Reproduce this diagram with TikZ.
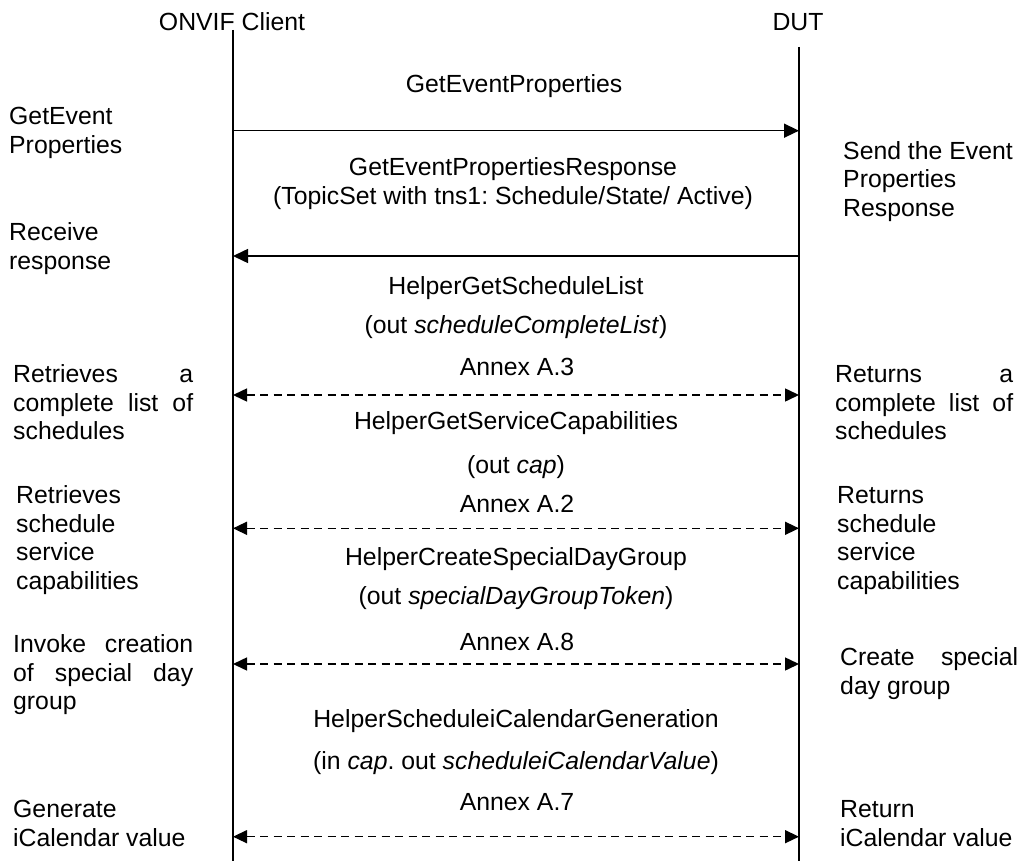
\documentclass[tikz,border=0pt]{standalone}
\usepackage{fontspec}
\setmainfont{Liberation Sans}
\usetikzlibrary{arrows.meta}
\frenchspacing
\newcommand\stk[1]{\vtop{\baselineskip=28.7pt\lineskiplimit=-100pt\halign{##\hfil\cr#1\crcr}}}
\newcommand\js[1]{\makebox[180pt][s]{#1}}
\tikzset{
  lbl/.style={anchor=base west, inner sep=0pt},
  ctr/.style={anchor=base, inner sep=0pt},
  life/.style={line width=1.4pt},
  msg/.style={line width=1.5pt, -{Triangle[length=15pt,width=14pt]}},
  dmsg/.style={line width=1.5pt, dash pattern=on 8pt off 5.5pt,
    {Triangle[length=14pt,width=13pt]}-{Triangle[length=14pt,width=13pt]}}
}
\begin{document}
\begin{tikzpicture}[x=1pt,y=-1pt,font=\fontsize{24.8}{28.7}\selectfont\frenchspacing]
\fill[white] (0,0) rectangle (1019,861);
\useasboundingbox (0,0) rectangle (1019,861);
% headers
\node[ctr] (client) at (232,30.7) {ONVIF Client};
\node[ctr] (dut) at (798,30.7) {DUT};
% lifelines
\coordinate (ctop) at (233,30);
\coordinate (cbot) at (233,861);
\coordinate (dtop) at (799,47);
\coordinate (dbot) at (799,861);
\draw[life] (ctop) -- (cbot);
\draw[life] (dtop) -- (dbot);
% message coordinates
\coordinate (c1) at (233,130.7); \coordinate (d1) at (799,130.7);
\coordinate (c2) at (233,256);   \coordinate (d2) at (799,256);
\coordinate (c3) at (233,395);   \coordinate (d3) at (799,395);
\coordinate (c4) at (233,528.3); \coordinate (d4) at (799,528.3);
\coordinate (c5) at (233,664);   \coordinate (d5) at (799,664);
\coordinate (c6) at (233,836.7); \coordinate (d6) at (799,836.7);
\draw[msg] (c1) -- (d1);
\draw[msg] (d2) -- (c2);
\draw[dmsg] (c3) -- (d3);
\draw[dmsg] (c4) -- (d4);
\draw[dmsg] (c5) -- (d5);
\draw[dmsg] (c6) -- (d6);
% centre texts
\node[ctr] (m1) at (514,92.5) {GetEventProperties};
\node[ctr] (m2a) at (513,175.8) {GetEventPropertiesResponse};
\node[ctr] (m2b) at (513,204.6) {(TopicSet with tns1: Schedule/State/ Active)};
\node[ctr] (m3a) at (516,294.2) {HelperGetScheduleList};
\node[ctr] (m3b) at (516,333) {(out \textit{scheduleCompleteList})};
\node[ctr] (m3c) at (517,375.8) {Annex A.3};
\node[ctr] (m4a) at (516,429.2) {HelperGetServiceCapabilities};
\node[ctr] (m4b) at (516,473) {(out \textit{cap})};
\node[ctr] (m4c) at (517,512.5) {Annex A.2};
\node[ctr] (m5a) at (516,565.8) {HelperCreateSpecialDayGroup};
\node[ctr] (m5b) at (516,604.6) {(out \textit{specialDayGroupToken})};
\node[ctr] (m5c) at (517,650.8) {Annex A.8};
\node[ctr] (m6a) at (516,727.5) {HelperScheduleiCalendarGeneration};
\node[ctr] (m6b) at (516,769.6) {(in \textit{cap}. out \textit{scheduleiCalendarValue})};
\node[ctr] (m6c) at (517,810.8) {Annex A.7};
% left labels
\node[lbl] (l1) at (9,124.8) {\stk{GetEvent\cr Properties}};
\node[lbl] (l2) at (9,240.8) {\stk{Receive\cr response}};
\node[lbl] (l3) at (13,382.5) {\stk{\js{Retrieves a}\cr \js{complete list of}\cr schedules}};
\node[lbl] (l4) at (16,503.5) {\stk{Retrieves\cr schedule\cr service\cr capabilities}};
\node[lbl] (l5) at (13,652.5) {\stk{\js{Invoke creation}\cr \js{of special day}\cr group}};
\node[lbl] (l6) at (13,817.5) {\stk{Generate\cr iCalendar value}};
% right labels
\node[lbl] (r1) at (843,159.2) {\stk{Send the Event\cr Properties\cr Response}};
\node[lbl] (r3) at (835,382.5) {\stk{\makebox[178pt][s]{Returns a}\cr \makebox[178pt][s]{complete list of}\cr schedules}};
\node[lbl] (r4) at (837,503.5) {\stk{Returns\cr schedule\cr service\cr capabilities}};
\node[lbl] (r5) at (840,665.8) {\stk{\makebox[178pt][s]{Create special}\cr day group}};
\node[lbl] (r6) at (840,817.5) {\stk{Return\cr iCalendar value}};
\end{tikzpicture}
\end{document}
